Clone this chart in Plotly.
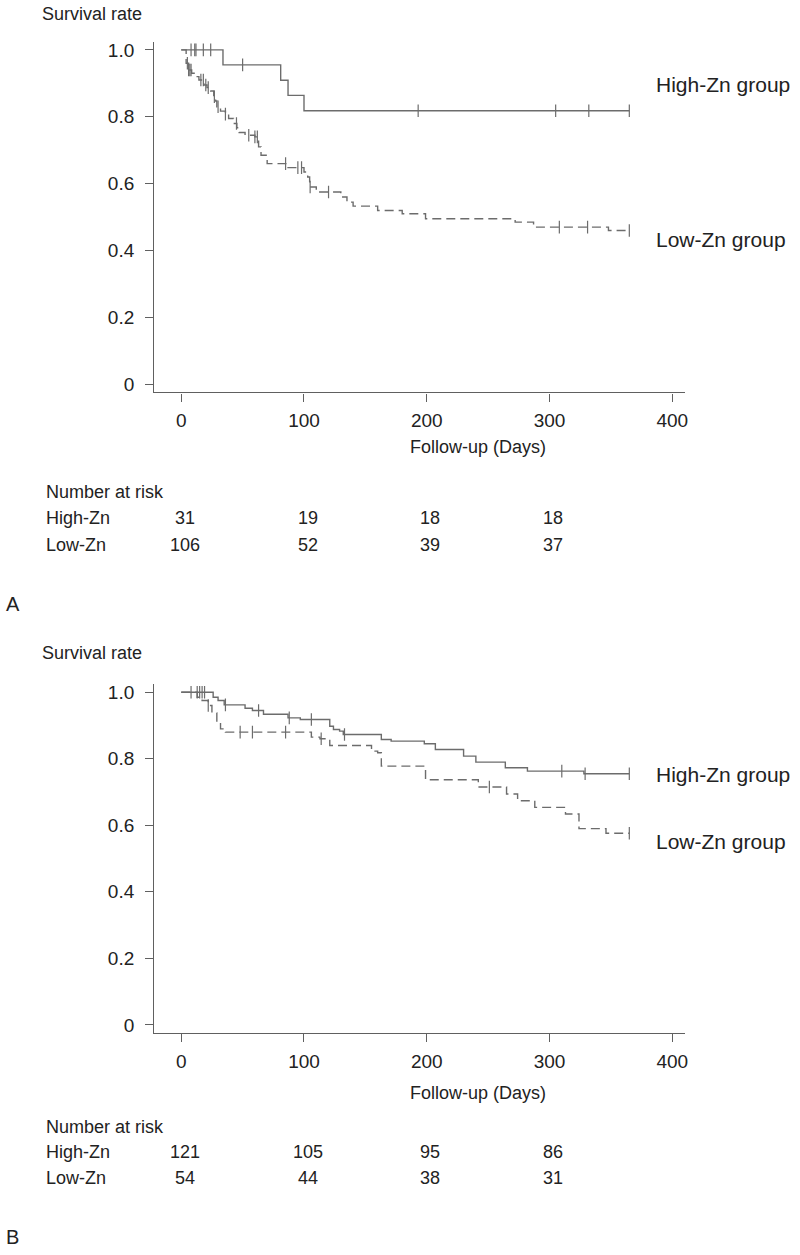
import plotly.graph_objects as go

# ---------------- Data ----------------
# Panel A
a_high_days = [0, 34, 81, 87, 100, 365]
a_high_surv = [1.0, 0.955, 0.909, 0.864, 0.818, 0.818]
a_high_cens = [8, 11, 12, 18, 24, 50, 193, 305, 332, 365]

a_low_days = [0, 4, 6, 8.5, 11.7, 14.4, 18.4, 21, 24, 26.5, 28, 29, 32, 36, 38.6, 42.6,
              45.3, 47.2, 52, 60, 63, 65, 70, 87, 100, 103, 104.6, 110, 130, 135, 140,
              160, 180, 199, 272, 287, 348, 365]
a_low_surv = [1.0, 0.96, 0.94, 0.93, 0.92, 0.91, 0.895, 0.887, 0.877, 0.86, 0.847, 0.83,
              0.817, 0.808, 0.795, 0.78, 0.767, 0.753, 0.745, 0.74, 0.71, 0.685, 0.66,
              0.648, 0.635, 0.62, 0.59, 0.575, 0.56, 0.545, 0.533, 0.52, 0.51, 0.495,
              0.485, 0.47, 0.46, 0.46]
a_low_cens = [5, 6, 7, 8, 16, 18, 20, 22, 27, 30, 36, 45, 55, 60, 62, 85, 95, 98, 105,
              120, 308, 331, 365]

# Panel B
b_high_days = [0, 26, 30, 35, 52, 58, 67, 87, 97, 121, 124, 129, 132, 163, 171, 198,
               207, 230, 240, 264, 282, 328, 365]
b_high_surv = [1.0, 0.985, 0.975, 0.962, 0.952, 0.945, 0.934, 0.923, 0.918, 0.898,
               0.888, 0.883, 0.873, 0.858, 0.853, 0.845, 0.828, 0.808, 0.790, 0.773,
               0.763, 0.755, 0.755]
b_high_cens = [8, 13, 15, 17, 19, 36, 63, 88, 106, 133, 310, 329, 365]

b_low_days = [0, 13, 17, 22, 25, 29, 32, 36, 106, 113, 121, 155, 160, 163, 199, 242,
              265, 274, 288, 313, 324, 346, 365]
b_low_surv = [1.0, 0.985, 0.975, 0.96, 0.938, 0.908, 0.89, 0.88, 0.865, 0.86, 0.84,
              0.823, 0.818, 0.778, 0.737, 0.715, 0.694, 0.674, 0.654, 0.634, 0.59,
              0.576, 0.576]
b_low_cens = [22, 48, 58, 85, 114, 251, 365]

risk_times = [0, 100, 200, 300]
a_risk_high = [31, 19, 18, 18]
a_risk_low = [106, 52, 39, 37]
b_risk_high = [121, 105, 95, 86]
b_risk_low = [54, 44, 38, 31]

x_ticks = [0, 100, 200, 300, 400]
y_ticks = [0, 0.2, 0.4, 0.6, 0.8, 1.0]
y_ticktext = ["0", "0.2", "0.4", "0.6", "0.8", "1.0"]

# ---------------- Styling ----------------
W, H = 800, 1255
FONT = "Liberation Sans, Arial, sans-serif"
FS = 18
FS_TICK = 19
FS_GROUP = 21
TXT = "#222222"
LINE = "#6c6c6c"
AX = "#606060"


def step_at(days, surv, t):
    val = surv[0]
    for d, s in zip(days, surv):
        if d <= t:
            val = s
    return val


def px(x):
    return x / W


def py(y):
    return 1 - y / H


fig = go.Figure()


def add_curve(days, surv, cens, dash, xa, ya):
    fig.add_trace(go.Scatter(x=days, y=surv, mode="lines", line_shape="hv",
                             line=dict(color=LINE, width=1.4, dash=dash),
                             xaxis=xa, yaxis=ya, showlegend=False, hoverinfo="skip"))
    fig.add_trace(go.Scatter(x=cens, y=[step_at(days, surv, t) for t in cens],
                             mode="markers",
                             marker=dict(symbol="line-ns-open", size=9, color=LINE,
                                         line=dict(color=LINE, width=1.2)),
                             xaxis=xa, yaxis=ya, showlegend=False, hoverinfo="skip"))


add_curve(a_high_days, a_high_surv, a_high_cens, "solid", "x", "y")
add_curve(a_low_days, a_low_surv, a_low_cens, "9px,5px", "x", "y")
add_curve(b_high_days, b_high_surv, b_high_cens, "solid", "x2", "y2")
add_curve(b_low_days, b_low_surv, b_low_cens, "9px,5px", "x2", "y2")

xdom = [px(155), px(688)]
ydomA = [py(392), py(40)]
ydomB = [py(1035), py(685)]

xaxis_common = dict(range=[-22, 410], tickvals=x_ticks, ticks="outside", ticklen=8,
                    tickwidth=1.2, tickcolor=AX, showline=True, linecolor=AX,
                    linewidth=1.3, showgrid=False, zeroline=False,
                    tickfont=dict(family=FONT, size=FS_TICK, color=TXT), domain=xdom,
                    ticklabelstandoff=3, fixedrange=True)
yaxis_common = dict(range=[-0.024, 1.024], tickvals=y_ticks, ticktext=y_ticktext,
                    ticks="outside", ticklen=8, tickwidth=1.2, tickcolor=AX,
                    showline=True, linecolor=AX, linewidth=1.3, showgrid=False,
                    zeroline=False, tickfont=dict(family=FONT, size=FS_TICK, color=TXT),
                    ticklabelstandoff=7, fixedrange=True)

fig.update_layout(
    width=W, height=H, margin=dict(l=0, r=0, t=0, b=0),
    paper_bgcolor="white", plot_bgcolor="white",
    xaxis=dict(**xaxis_common, anchor="y"),
    yaxis=dict(**yaxis_common, domain=ydomA, anchor="x"),
    xaxis2=dict(**xaxis_common, anchor="y2"),
    yaxis2=dict(**yaxis_common, domain=ydomB, anchor="x2"),
    font=dict(family=FONT, size=FS, color=TXT),
)

ann = []


def txt(text, x, y, xanchor="left", xref="paper", size=FS):
    ann.append(dict(text=text, x=x, y=y, xref=xref, yref="paper", xanchor=xanchor,
                    yanchor="middle", showarrow=False,
                    font=dict(family=FONT, size=size, color=TXT)))


# (label offset, follow-up y, table rows y, letter y)
panels = [
    ("A", a_risk_high, a_risk_low, 12, 447, (492, 518, 545), 604, 83, 238, "x"),
    ("B", b_risk_high, b_risk_low, 654, 1095, (1129, 1155, 1181), 1240, 776, 843, "x2"),
]
for letter, rh, rl, ysr, yfu, rows, ylet, yh, yl, xr in panels:
    txt("Survival rate", px(40), py(ysr))
    txt("Follow-up (Days)", px(480), py(yfu), xanchor="center")
    txt("Number at risk", px(44), py(rows[0]))
    txt("High-Zn", px(44), py(rows[1]))
    txt("Low-Zn", px(44), py(rows[2]))
    for t, v in zip(risk_times, rh):
        txt(str(v), t + 3, py(rows[1]), xanchor="center", xref=xr)
    for t, v in zip(risk_times, rl):
        txt(str(v), t + 3, py(rows[2]), xanchor="center", xref=xr)
    txt(letter, px(4), py(ylet), size=20)
    txt("High-Zn group", px(657), py(yh), size=FS_GROUP)
    txt("Low-Zn group", px(657), py(yl), size=FS_GROUP)

fig.update_layout(annotations=ann)
fig.write_html("out.html", config={"displayModeBar": False},
               post_script="document.body.style.margin='0';")
